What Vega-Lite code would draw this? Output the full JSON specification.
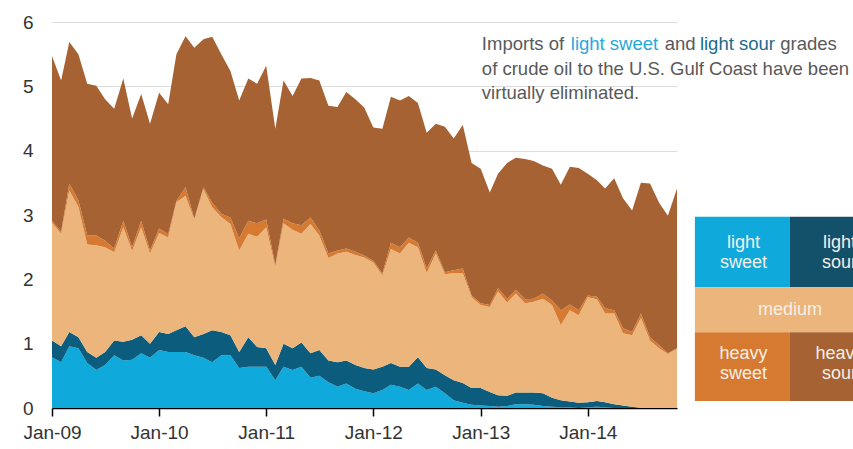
{
"$schema": "https://vega.github.io/schema/vega-lite/v6.json",
"width": 625, "height": 386,
"autosize": {"type": "none"},
"padding": {"left": 52, "top": 22, "right": 176, "bottom": 41},
"background": "white",
"config": {"view": {"stroke": null}, "font": "Liberation Sans"},
"layer": [
{
"data": {"values": [
{"d":"2009-01-01","a_lsw":0.79,"b_lso":0.26,"c_med":1.83,"d_hsw":0.03,"e_hso":2.56},
{"d":"2009-02-01","a_lsw":0.71,"b_lso":0.25,"c_med":1.75,"d_hsw":0.03,"e_hso":2.35},
{"d":"2009-03-01","a_lsw":0.96,"b_lso":0.22,"c_med":2.20,"d_hsw":0.11,"e_hso":2.20},
{"d":"2009-04-01","a_lsw":0.93,"b_lso":0.17,"c_med":2.03,"d_hsw":0.10,"e_hso":2.27},
{"d":"2009-05-01","a_lsw":0.70,"b_lso":0.17,"c_med":1.67,"d_hsw":0.14,"e_hso":2.36},
{"d":"2009-06-01","a_lsw":0.59,"b_lso":0.19,"c_med":1.75,"d_hsw":0.15,"e_hso":2.33},
{"d":"2009-07-01","a_lsw":0.67,"b_lso":0.20,"c_med":1.63,"d_hsw":0.10,"e_hso":2.20},
{"d":"2009-08-01","a_lsw":0.82,"b_lso":0.23,"c_med":1.37,"d_hsw":0.06,"e_hso":2.17},
{"d":"2009-09-01","a_lsw":0.74,"b_lso":0.29,"c_med":1.78,"d_hsw":0.10,"e_hso":2.21},
{"d":"2009-10-01","a_lsw":0.75,"b_lso":0.31,"c_med":1.38,"d_hsw":0.06,"e_hso":2.00},
{"d":"2009-11-01","a_lsw":0.85,"b_lso":0.28,"c_med":1.68,"d_hsw":0.10,"e_hso":1.97},
{"d":"2009-12-01","a_lsw":0.78,"b_lso":0.22,"c_med":1.40,"d_hsw":0.05,"e_hso":1.97},
{"d":"2010-01-01","a_lsw":0.90,"b_lso":0.28,"c_med":1.54,"d_hsw":0.07,"e_hso":2.11},
{"d":"2010-02-01","a_lsw":0.87,"b_lso":0.28,"c_med":1.50,"d_hsw":0.05,"e_hso":2.02},
{"d":"2010-03-01","a_lsw":0.87,"b_lso":0.34,"c_med":1.99,"d_hsw":0.02,"e_hso":2.28},
{"d":"2010-04-01","a_lsw":0.87,"b_lso":0.40,"c_med":2.03,"d_hsw":0.13,"e_hso":2.35},
{"d":"2010-05-01","a_lsw":0.82,"b_lso":0.28,"c_med":1.83,"d_hsw":0.01,"e_hso":2.66},
{"d":"2010-06-01","a_lsw":0.78,"b_lso":0.37,"c_med":2.25,"d_hsw":0.03,"e_hso":2.30},
{"d":"2010-07-01","a_lsw":0.71,"b_lso":0.50,"c_med":1.91,"d_hsw":0.07,"e_hso":2.58},
{"d":"2010-08-01","a_lsw":0.82,"b_lso":0.36,"c_med":1.79,"d_hsw":0.05,"e_hso":2.48},
{"d":"2010-09-01","a_lsw":0.82,"b_lso":0.31,"c_med":1.73,"d_hsw":0.10,"e_hso":2.28},
{"d":"2010-10-01","a_lsw":0.62,"b_lso":0.25,"c_med":1.58,"d_hsw":0.19,"e_hso":2.14},
{"d":"2010-11-01","a_lsw":0.64,"b_lso":0.46,"c_med":1.61,"d_hsw":0.20,"e_hso":2.21},
{"d":"2010-12-01","a_lsw":0.64,"b_lso":0.31,"c_med":1.71,"d_hsw":0.21,"e_hso":2.17},
{"d":"2011-01-01","a_lsw":0.64,"b_lso":0.29,"c_med":1.88,"d_hsw":0.12,"e_hso":2.39},
{"d":"2011-02-01","a_lsw":0.43,"b_lso":0.24,"c_med":1.52,"d_hsw":0.03,"e_hso":2.12},
{"d":"2011-03-01","a_lsw":0.64,"b_lso":0.36,"c_med":1.87,"d_hsw":0.07,"e_hso":2.15},
{"d":"2011-04-01","a_lsw":0.59,"b_lso":0.34,"c_med":1.84,"d_hsw":0.10,"e_hso":1.98},
{"d":"2011-05-01","a_lsw":0.64,"b_lso":0.38,"c_med":1.69,"d_hsw":0.13,"e_hso":2.28},
{"d":"2011-06-01","a_lsw":0.47,"b_lso":0.38,"c_med":2.01,"d_hsw":0.10,"e_hso":2.17},
{"d":"2011-07-01","a_lsw":0.50,"b_lso":0.40,"c_med":1.78,"d_hsw":0.08,"e_hso":2.33},
{"d":"2011-08-01","a_lsw":0.40,"b_lso":0.34,"c_med":1.59,"d_hsw":0.07,"e_hso":2.30},
{"d":"2011-09-01","a_lsw":0.33,"b_lso":0.38,"c_med":1.69,"d_hsw":0.05,"e_hso":2.23},
{"d":"2011-10-01","a_lsw":0.38,"b_lso":0.36,"c_med":1.69,"d_hsw":0.05,"e_hso":2.43},
{"d":"2011-11-01","a_lsw":0.30,"b_lso":0.37,"c_med":1.71,"d_hsw":0.05,"e_hso":2.37},
{"d":"2011-12-01","a_lsw":0.26,"b_lso":0.36,"c_med":1.72,"d_hsw":0.03,"e_hso":2.30},
{"d":"2012-01-01","a_lsw":0.23,"b_lso":0.37,"c_med":1.66,"d_hsw":0.03,"e_hso":2.07},
{"d":"2012-02-01","a_lsw":0.28,"b_lso":0.36,"c_med":1.42,"d_hsw":0.03,"e_hso":2.25},
{"d":"2012-03-01","a_lsw":0.36,"b_lso":0.34,"c_med":1.77,"d_hsw":0.10,"e_hso":2.27},
{"d":"2012-04-01","a_lsw":0.33,"b_lso":0.31,"c_med":1.76,"d_hsw":0.10,"e_hso":2.28},
{"d":"2012-05-01","a_lsw":0.28,"b_lso":0.36,"c_med":1.93,"d_hsw":0.08,"e_hso":2.20},
{"d":"2012-06-01","a_lsw":0.38,"b_lso":0.41,"c_med":1.71,"d_hsw":0.07,"e_hso":2.17},
{"d":"2012-07-01","a_lsw":0.28,"b_lso":0.34,"c_med":1.48,"d_hsw":0.07,"e_hso":2.11},
{"d":"2012-08-01","a_lsw":0.33,"b_lso":0.27,"c_med":1.80,"d_hsw":0.05,"e_hso":1.97},
{"d":"2012-09-01","a_lsw":0.23,"b_lso":0.28,"c_med":1.57,"d_hsw":0.03,"e_hso":2.26},
{"d":"2012-10-01","a_lsw":0.12,"b_lso":0.31,"c_med":1.67,"d_hsw":0.04,"e_hso":2.05},
{"d":"2012-11-01","a_lsw":0.08,"b_lso":0.31,"c_med":1.71,"d_hsw":0.07,"e_hso":2.23},
{"d":"2012-12-01","a_lsw":0.05,"b_lso":0.26,"c_med":1.41,"d_hsw":0.03,"e_hso":2.06},
{"d":"2013-01-01","a_lsw":0.04,"b_lso":0.27,"c_med":1.29,"d_hsw":0.03,"e_hso":2.09},
{"d":"2013-02-01","a_lsw":0.03,"b_lso":0.22,"c_med":1.32,"d_hsw":0.03,"e_hso":1.75},
{"d":"2013-03-01","a_lsw":0.02,"b_lso":0.18,"c_med":1.61,"d_hsw":0.05,"e_hso":1.78},
{"d":"2013-04-01","a_lsw":0.03,"b_lso":0.16,"c_med":1.45,"d_hsw":0.06,"e_hso":2.11},
{"d":"2013-05-01","a_lsw":0.06,"b_lso":0.18,"c_med":1.54,"d_hsw":0.06,"e_hso":2.05},
{"d":"2013-06-01","a_lsw":0.06,"b_lso":0.18,"c_med":1.39,"d_hsw":0.06,"e_hso":2.18},
{"d":"2013-07-01","a_lsw":0.05,"b_lso":0.19,"c_med":1.41,"d_hsw":0.05,"e_hso":2.14},
{"d":"2013-08-01","a_lsw":0.03,"b_lso":0.20,"c_med":1.47,"d_hsw":0.08,"e_hso":1.99},
{"d":"2013-09-01","a_lsw":0.02,"b_lso":0.14,"c_med":1.44,"d_hsw":0.07,"e_hso":2.05},
{"d":"2013-10-01","a_lsw":0.01,"b_lso":0.11,"c_med":1.17,"d_hsw":0.23,"e_hso":1.95},
{"d":"2013-11-01","a_lsw":0.01,"b_lso":0.09,"c_med":1.42,"d_hsw":0.09,"e_hso":2.14},
{"d":"2013-12-01","a_lsw":0.00,"b_lso":0.08,"c_med":1.36,"d_hsw":0.08,"e_hso":2.21},
{"d":"2014-01-01","a_lsw":0.01,"b_lso":0.08,"c_med":1.63,"d_hsw":0.03,"e_hso":1.89},
{"d":"2014-02-01","a_lsw":0.02,"b_lso":0.09,"c_med":1.58,"d_hsw":0.04,"e_hso":1.81},
{"d":"2014-03-01","a_lsw":0.01,"b_lso":0.08,"c_med":1.38,"d_hsw":0.08,"e_hso":1.86},
{"d":"2014-04-01","a_lsw":0.00,"b_lso":0.06,"c_med":1.41,"d_hsw":0.05,"e_hso":2.05},
{"d":"2014-05-01","a_lsw":0.00,"b_lso":0.04,"c_med":1.12,"d_hsw":0.08,"e_hso":2.02},
{"d":"2014-06-01","a_lsw":0.00,"b_lso":0.02,"c_med":1.11,"d_hsw":0.05,"e_hso":1.89},
{"d":"2014-07-01","a_lsw":0.00,"b_lso":0.00,"c_med":1.40,"d_hsw":0.07,"e_hso":2.03},
{"d":"2014-08-01","a_lsw":0.00,"b_lso":0.00,"c_med":1.05,"d_hsw":0.05,"e_hso":2.39},
{"d":"2014-09-01","a_lsw":0.00,"b_lso":0.00,"c_med":0.93,"d_hsw":0.05,"e_hso":2.21},
{"d":"2014-10-01","a_lsw":0.00,"b_lso":0.00,"c_med":0.84,"d_hsw":0.01,"e_hso":2.14},
{"d":"2014-11-01","a_lsw":0.00,"b_lso":0.00,"c_med":0.92,"d_hsw":0.01,"e_hso":2.48}
]},
"transform": [{"fold": ["a_lsw","b_lso","c_med","d_hsw","e_hso"], "as": ["grade","mbd"]}],
"mark": {"type": "area", "interpolate": "linear"},
"encoding": {
  "x": {"field": "d", "type": "temporal",
    "scale": {"type": "utc", "domain": [{"year":2009,"month":1,"date":1,"utc":true},{"year":2014,"month":11,"date":1,"utc":true}]},
    "axis": {"title": null, "grid": false, "format": "%b-%y", "labelFlush": false, "labelOverlap": false,
      "values": [{"year":2009,"month":1,"date":1,"utc":true},{"year":2010,"month":1,"date":1,"utc":true},{"year":2011,"month":1,"date":1,"utc":true},{"year":2012,"month":1,"date":1,"utc":true},{"year":2013,"month":1,"date":1,"utc":true},{"year":2014,"month":1,"date":1,"utc":true}],
      "labelFontSize": 19, "labelColor": "#333333", "labelFont": "Liberation Sans", "labelPadding": 7,
      "domainColor": "#000000", "domainWidth": 1.5, "tickColor": "#000000", "tickWidth": 1.5, "tickSize": 8}},
  "y": {"field": "mbd", "type": "quantitative", "stack": "zero",
    "scale": {"domain": [0, 6], "nice": false},
    "axis": {"title": null, "values": [0,1,2,3,4,5,6], "format": "d", "domain": false, "ticks": false, "labelPadding": 19,
      "labelFontSize": 19, "labelColor": "#333333", "labelFont": "Liberation Sans", "gridColor": "#dcdcdc", "gridWidth": 1}},
  "color": {"field": "grade", "type": "nominal",
    "scale": {"domain": ["a_lsw","b_lso","c_med","d_hsw","e_hso"], "range": ["#0fa9dc","#0c5d7d","#ebb57b","#d77a31","#a66232"]},
    "legend": null},
  "order": {"field": "grade", "sort": "ascending"}
}
},
{"data": {"values": [{}]}, "mark": {"type": "text", "align": "left", "baseline": "alphabetic", "fontSize": 18.5, "font": "Liberation Sans", "color": "#595959", "text": "Imports of"},
 "encoding": {"x": {"datum": {"year":2013,"month":1,"date":5,"utc":true}, "type": "temporal"}, "y": {"datum": 5.57}}},
{"data": {"values": [{}]}, "mark": {"type": "text", "align": "left", "baseline": "alphabetic", "fontSize": 18.5, "font": "Liberation Sans", "color": "#27a8dc", "text": "light sweet"},
 "encoding": {"x": {"datum": {"year":2013,"month":11,"date":4,"utc":true}, "type": "temporal"}, "y": {"datum": 5.57}}},
{"data": {"values": [{}]}, "mark": {"type": "text", "align": "left", "baseline": "alphabetic", "fontSize": 18.5, "font": "Liberation Sans", "color": "#595959", "text": "and"},
 "encoding": {"x": {"datum": {"year":2014,"month":9,"date":20,"utc":true}, "type": "temporal"}, "y": {"datum": 5.57}}},
{"data": {"values": [{}]}, "mark": {"type": "text", "align": "left", "baseline": "alphabetic", "fontSize": 18.5, "font": "Liberation Sans", "color": "#1b6b8c", "text": "light sour"},
 "encoding": {"x": {"datum": {"year":2015,"month":1,"date":18,"utc":true}, "type": "temporal"}, "y": {"datum": 5.57}}},
{"data": {"values": [{}]}, "mark": {"type": "text", "align": "left", "baseline": "alphabetic", "fontSize": 18.5, "font": "Liberation Sans", "color": "#595959", "text": "grades"},
 "encoding": {"x": {"datum": {"year":2015,"month":10,"date":19,"utc":true}, "type": "temporal"}, "y": {"datum": 5.57}}},
{"data": {"values": [{}]}, "mark": {"type": "text", "align": "left", "baseline": "alphabetic", "fontSize": 18.5, "font": "Liberation Sans", "color": "#595959", "text": "of crude oil to the U.S. Gulf Coast have been"},
 "encoding": {"x": {"datum": {"year":2013,"month":1,"date":5,"utc":true}, "type": "temporal"}, "y": {"datum": 5.17}}},
{"data": {"values": [{}]}, "mark": {"type": "text", "align": "left", "baseline": "alphabetic", "fontSize": 18.5, "font": "Liberation Sans", "color": "#595959", "text": "virtually eliminated."},
 "encoding": {"x": {"datum": {"year":2013,"month":1,"date":5,"utc":true}, "type": "temporal"}, "y": {"datum": 4.80}}},
{"data": {"values": [{}]}, "mark": {"type": "rect"},
 "encoding": {"x": {"datum": {"year":2015,"month":1,"date":1,"utc":true}, "type": "temporal"}, "x2": {"datum": {"year":2015,"month":11,"date":21,"utc":true}},
   "y": {"datum": 2.974}, "y2": {"datum": 1.876}, "color": {"datum": "a_lsw", "type": "nominal"}}},
{"data": {"values": [{}]}, "mark": {"type": "rect", "color": "#13506a"},
 "encoding": {"x": {"datum": {"year":2015,"month":11,"date":21,"utc":true}, "type": "temporal"}, "x2": {"datum": {"year":2016,"month":10,"date":15,"utc":true}},
   "y": {"datum": 2.974}, "y2": {"datum": 1.876}}},
{"data": {"values": [{}]}, "mark": {"type": "rect"},
 "encoding": {"x": {"datum": {"year":2015,"month":1,"date":1,"utc":true}, "type": "temporal"}, "x2": {"datum": {"year":2016,"month":10,"date":15,"utc":true}},
   "y": {"datum": 1.876}, "y2": {"datum": 1.177}, "color": {"datum": "c_med", "type": "nominal"}}},
{"data": {"values": [{}]}, "mark": {"type": "rect"},
 "encoding": {"x": {"datum": {"year":2015,"month":1,"date":1,"utc":true}, "type": "temporal"}, "x2": {"datum": {"year":2015,"month":11,"date":21,"utc":true}},
   "y": {"datum": 1.177}, "y2": {"datum": 0.109}, "color": {"datum": "d_hsw", "type": "nominal"}}},
{"data": {"values": [{}]}, "mark": {"type": "rect"},
 "encoding": {"x": {"datum": {"year":2015,"month":11,"date":21,"utc":true}, "type": "temporal"}, "x2": {"datum": {"year":2016,"month":10,"date":15,"utc":true}},
   "y": {"datum": 1.177}, "y2": {"datum": 0.109}, "color": {"datum": "e_hso", "type": "nominal"}}},
{"data": {"values": [{}]}, "mark": {"type": "text", "align": "center", "baseline": "middle", "fontSize": 18, "font": "Liberation Sans", "color": "#f4efe6", "text": ["light", "sweet"], "lineHeight": 20},
 "encoding": {"x": {"datum": {"year":2015,"month":6,"date":16,"utc":true}, "type": "temporal"}, "y": {"datum": 2.565}}},
{"data": {"values": [{}]}, "mark": {"type": "text", "align": "center", "baseline": "middle", "fontSize": 18, "font": "Liberation Sans", "color": "#f4efe6", "text": ["light", "sour"], "lineHeight": 20},
 "encoding": {"x": {"datum": {"year":2016,"month":5,"date":8,"utc":true}, "type": "temporal"}, "y": {"datum": 2.565}}},
{"data": {"values": [{}]}, "mark": {"type": "text", "align": "center", "baseline": "middle", "fontSize": 18, "font": "Liberation Sans", "color": "#f4efe6", "text": "medium"},
 "encoding": {"x": {"datum": {"year":2015,"month":11,"date":21,"utc":true}, "type": "temporal"}, "y": {"datum": 1.524}}},
{"data": {"values": [{}]}, "mark": {"type": "text", "align": "center", "baseline": "middle", "fontSize": 18, "font": "Liberation Sans", "color": "#f4efe6", "text": ["heavy", "sweet"], "lineHeight": 20},
 "encoding": {"x": {"datum": {"year":2015,"month":6,"date":16,"utc":true}, "type": "temporal"}, "y": {"datum": 0.84}}},
{"data": {"values": [{}]}, "mark": {"type": "text", "align": "center", "baseline": "middle", "fontSize": 18, "font": "Liberation Sans", "color": "#f4efe6", "text": ["heavy", "sour"], "lineHeight": 20},
 "encoding": {"x": {"datum": {"year":2016,"month":5,"date":8,"utc":true}, "type": "temporal"}, "y": {"datum": 0.84}}}
]
}
